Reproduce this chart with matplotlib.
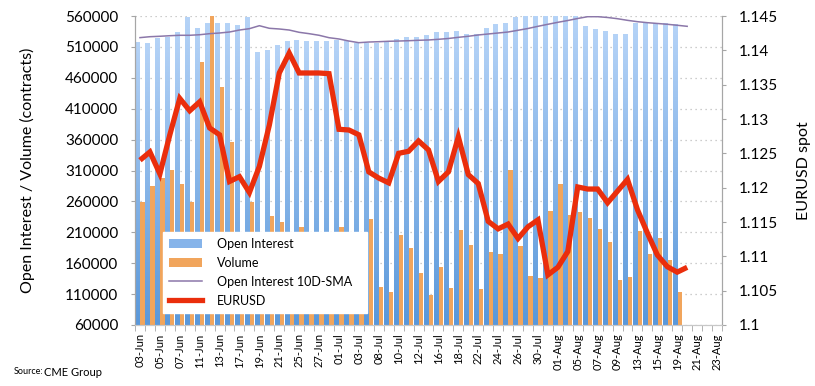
import numpy as np
import matplotlib
matplotlib.use("Agg")
import matplotlib.pyplot as plt
from matplotlib.colors import LinearSegmentedColormap
from matplotlib.patches import Patch
from matplotlib.lines import Line2D

plt.rcParams['font.family'] = ['Lato', 'DejaVu Sans']

# trading days shown on the category axis
dates = ["03-Jun", "04-Jun", "05-Jun", "06-Jun", "07-Jun", "10-Jun", "11-Jun", "12-Jun", "13-Jun", "14-Jun",
         "17-Jun", "18-Jun", "19-Jun", "20-Jun", "21-Jun", "24-Jun", "25-Jun", "26-Jun", "27-Jun", "28-Jun",
         "01-Jul", "02-Jul", "03-Jul", "05-Jul", "08-Jul", "09-Jul", "10-Jul", "11-Jul", "12-Jul", "15-Jul",
         "16-Jul", "17-Jul", "18-Jul", "19-Jul", "22-Jul", "23-Jul", "24-Jul", "25-Jul", "26-Jul", "29-Jul",
         "30-Jul", "31-Jul", "01-Aug", "02-Aug", "05-Aug", "06-Aug", "07-Aug", "08-Aug", "09-Aug", "12-Aug",
         "13-Aug", "14-Aug", "15-Aug", "16-Aug", "19-Aug", "20-Aug", "21-Aug", "22-Aug", "23-Aug"]

open_interest = [517400, 515800, 524900, 526500, 533600, 558000, 541000, 548000, 549000, 548000,
                 545400, 558000, 502000, 505000, 513000, 519500, 521000, 519500, 519500, 519500,
                 521000, 519500, 516000, 516000, 516000, 517500, 522000, 526500, 526500, 529000,
                 534600, 534600, 535700, 531000, 531000, 540000, 547000, 549000, 559000, 566000,
                 570000, 572000, 574000, 571000, 568000, 544000, 538500, 536000, 531000, 531000,
                 549000, 549000, 548000, 548000, 546500]

volume = [258600, 285400, 297400, 310800, 287700, 259500, 486100, 590000, 444600, 356600,
          195000, 259500, 175000, 236900, 226200, 160000, 219100, 150000, 140000, 165000,
          219100, 180000, 155000, 231500, 122000, 113900, 205700, 184100, 143700, 108600,
          153400, 119400, 213700, 189500, 117800, 177700, 174400, 310800, 187900, 139800,
          135600, 244500, 288200, 238000, 242400, 232700, 215400, 193800, 132800, 137200,
          212100, 174400, 200300, 165200, 113900]

oi_sma = [525000, 526500, 527200, 528100, 528800, 528800, 529700, 531400, 532500, 534100,
          537300, 539500, 544300, 540100, 539000, 537300, 533600, 531400, 528800, 524900,
          522800, 519500, 516800, 517900, 518400, 519100, 519500, 520000, 520700, 521200,
          522300, 523600, 525500, 527200, 529300, 530900, 532500, 534100, 536900, 539800,
          543300, 546600, 549800, 552700, 556000, 558900, 558900, 557600, 555600, 553000,
          550800, 549200, 547900, 546600, 545000, 543300]

eurusd = [1.1240, 1.1252, 1.1220, 1.1277, 1.1330, 1.1312, 1.1325, 1.1287, 1.1277, 1.1209,
          1.1216, 1.1193, 1.1231, 1.1291, 1.1367, 1.1396, 1.1367, 1.1367, 1.1367, 1.1366,
          1.1285, 1.1284, 1.1277, 1.1223, 1.1214, 1.1207, 1.1250, 1.1253, 1.1268, 1.1255,
          1.1209, 1.1223, 1.1274, 1.1219, 1.1206, 1.1151, 1.1140, 1.1147, 1.1126, 1.1143,
          1.1153, 1.1073, 1.1084, 1.1107, 1.1201, 1.1198, 1.1198, 1.1178, 1.1195, 1.1212,
          1.1168, 1.1134, 1.1102, 1.1085, 1.1077, 1.1084]

BLUE = '#86B4EA'
ORANGE = '#F1A55C'
PURPLE = '#8B77A9'
RED = '#EA2E0C'
GREY = '#A6A6A6'

fig = plt.figure(figsize=(8.15, 3.86), dpi=100)
ax = fig.add_axes([135 / 815, 1 - 325 / 386, 587 / 815, 309 / 386])
ax2 = ax.twinx()

ymin, ymax = 60000, 560000
n_oi = len(open_interest)
xb = np.arange(n_oi)
w = 0.46

# open interest bars with a vertical gradient, volume bars next to them
oi_bars = ax.bar(xb - 0.24, open_interest, width=w, color=BLUE, zorder=2)
grad_cmap = LinearSegmentedColormap.from_list('oi', ['#5A98DA', '#B5D3F7'])
grad = np.linspace(0, 1, 128).reshape(-1, 1)
for b in oi_bars:
    top = min(b.get_height(), ymax)
    im = ax.imshow(grad, extent=[b.get_x(), b.get_x() + b.get_width(), ymin, top],
                   origin='lower', aspect='auto', cmap=grad_cmap, zorder=2.1)
    im.set_clip_path(b)
ax.bar(xb + 0.24, volume, width=w, color=ORANGE, zorder=2)

ax.plot(np.arange(len(oi_sma)), oi_sma, color=PURPLE, lw=1.1, zorder=3)
ax2.plot(np.arange(len(eurusd)), eurusd, color=RED, lw=3.8, solid_joinstyle='miter',
         solid_capstyle='butt', zorder=4)

ax.set_xlim(-0.5, len(dates) - 0.5)
ax.set_ylim(ymin, ymax)
ax2.set_ylim(1.1, 1.145)

ax.set_yticks(np.arange(ymin, ymax + 1, 50000))
ax.set_yticklabels([str(v) for v in range(ymin, ymax + 1, 50000)])
ax2.set_yticks(np.arange(1.1, 1.1451, 0.005))
ax2.set_yticklabels(['1.1', '1.105', '1.11', '1.115', '1.12', '1.125', '1.13', '1.135', '1.14', '1.145'])

ax.set_xticks(np.arange(0, len(dates), 2))
ax.set_xticklabels(dates[::2], rotation=90, fontsize=8)
ax.set_xticks(np.arange(-0.5, len(dates), 1), minor=True)
ax.tick_params(axis='x', which='major', length=0, pad=6)
ax.tick_params(axis='x', which='minor', length=4, color=GREY)
ax.tick_params(axis='y', length=3, color=GREY, labelsize=11, pad=9)
ax2.tick_params(axis='y', length=3, color=GREY, labelsize=11, pad=9)

ax.grid(axis='y', linestyle=(0, (1, 3)), color='#BDBDBD', lw=0.9, zorder=0)
ax.set_axisbelow(True)

for a in (ax, ax2):
    a.spines['top'].set_visible(False)
    a.spines['left'].set_color(GREY)
    a.spines['right'].set_color(GREY)
    a.spines['bottom'].set_color('#C8C8C8')

ax.set_ylabel('Open Interest / Volume (contracts)', fontsize=11.5)
ax.yaxis.set_label_coords(-0.170, 0.5)
ax2.set_ylabel('EURUSD spot', fontsize=11.5)
ax2.yaxis.set_label_coords(1.128, 0.5)

handles = [Patch(facecolor=BLUE, edgecolor='none'),
           Patch(facecolor=ORANGE, edgecolor='none'),
           Line2D([], [], color=PURPLE, lw=1.1),
           Line2D([], [], color=RED, lw=3.8)]
labels = ['Open Interest', 'Volume', 'Open Interest 10D-SMA', 'EURUSD']
leg = ax2.legend(handles, labels, loc='lower left', bbox_to_anchor=(0.048, 0.039, 0.347, 0.262),
                 mode='expand', fontsize=9, frameon=True, fancybox=False, framealpha=1,
                 handlelength=2.6, handletextpad=1.2, labelspacing=0.55,
                 borderpad=0.5, borderaxespad=0)
leg.get_frame().set_edgecolor('white')
leg.set_zorder(10)

fig.text(14 / 815, 1 - 372 / 386, 'Source:', fontsize=6.5, va='center')
fig.text(44 / 815, 1 - 372 / 386, 'CME Group', fontsize=8, va='center')

fig.savefig('out.png', dpi=100)
